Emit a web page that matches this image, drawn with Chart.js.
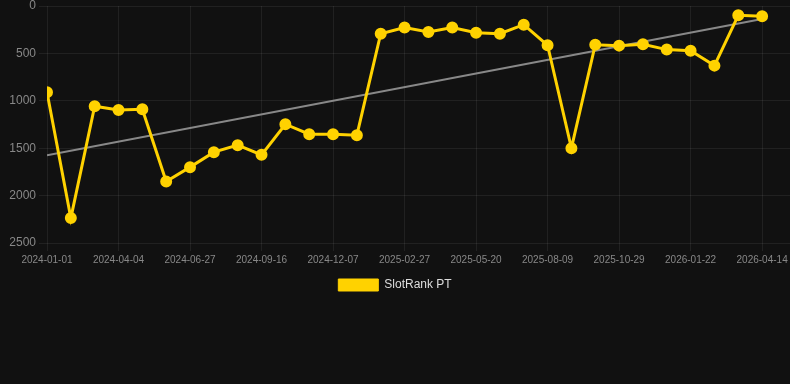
<!DOCTYPE html>
<html>
<head>
<meta charset="utf-8">
<script src="https://cdn.jsdelivr.net/npm/chart.js@4/dist/chart.umd.min.js"></script>
<style>
  html, body { margin: 0; padding: 0; background: #111111; }
  #wrap { width: 790px; height: 301px; position: relative; }
</style>
</head>
<body>
<div id="wrap"><canvas id="chart"></canvas></div>
<script>
// monthly snapshot dates (every 3rd one is shown on the axis)
const dates = [
  '2024-01-01', '2024-02-01', '2024-03-04', '2024-04-04', '2024-05-02', '2024-05-30',
  '2024-06-27', '2024-07-24', '2024-08-20', '2024-09-16', '2024-10-13', '2024-11-10',
  '2024-12-07', '2025-01-03', '2025-01-31', '2025-02-27', '2025-03-26', '2025-04-23',
  '2025-05-20', '2025-06-16', '2025-07-13', '2025-08-09', '2025-09-05', '2025-10-02',
  '2025-10-29', '2025-11-26', '2025-12-24', '2026-01-22', '2026-02-18', '2026-03-18',
  '2026-04-14'
];
const ranks = [
  909, 2237, 1057, 1096, 1089, 1851, 1700, 1542, 1468, 1570, 1247, 1352,
  1352, 1363, 292, 228, 274, 228, 281, 292, 197, 414, 1500, 408,
  418, 404, 460, 471, 629, 98, 109
];
const yTicks = [0, 500, 1000, 1500, 2000, 2500];

const YELLOW = '#FFD200';
const FONT = 'Liberation Sans, Arial, sans-serif';

// least squares trend over the rank series
function trend(values) {
  const n = values.length;
  let sx = 0, sy = 0, sxy = 0, sxx = 0;
  values.forEach((v, i) => { sx += i; sy += v; sxy += i * v; sxx += i * i; });
  const slope = (n * sxy - sx * sy) / (n * sxx - sx * sx);
  const icpt = (sy - slope * sx) / n;
  return [{ x: 0, y: icpt }, { x: n - 1, y: icpt + slope * (n - 1) }];
}

const points = ranks.map((v, i) => ({ x: i, y: v }));

new Chart(document.getElementById('chart'), {
  type: 'line',
  data: {
    datasets: [{
      label: 'SlotRank PT',
      data: points,
      borderColor: YELLOW,
      backgroundColor: YELLOW,
      pointBackgroundColor: YELLOW,
      pointBorderColor: YELLOW,
      borderWidth: 3,
      pointRadius: 4.5,
      pointHoverRadius: 5,
      tension: 0,
      order: 1
    }, {
      label: 'trend',
      data: trend(ranks),
      borderColor: 'rgba(150,150,150,0.9)',
      borderWidth: 2,
      pointRadius: 0,
      fill: false,
      order: 2
    }]
  },
  options: {
    responsive: true,
    maintainAspectRatio: false,
    animation: false,
    layout: { autoPadding: false },
    plugins: {
      legend: {
        position: 'bottom',
        labels: {
          color: '#dddddd',
          font: { family: FONT, size: 12 },
          generateLabels: chart => {
            const items = Chart.defaults.plugins.legend.labels.generateLabels(chart);
            return items.filter(it => it.text !== 'trend').map(it => ({ ...it, lineWidth: 1 }));
          }
        }
      },
      tooltip: { enabled: false }
    },
    scales: {
      x: {
        type: 'linear',
        min: 0,
        max: 31.17,
        grid: { color: 'rgba(255,255,255,0.07)' },
        border: { display: false },
        afterFit: s => { s.paddingRight = 0; },
        ticks: {
          stepSize: 3,
          includeBounds: false,
          autoSkip: false,
          maxRotation: 0,
          color: '#888888',
          font: { family: FONT, size: 10 },
          callback: v => (Number.isInteger(v) && v % 3 === 0 && dates[v]) ? dates[v] : null
        }
      },
      y: {
        reverse: true,
        min: 0,
        max: 2500,
        grid: { color: 'rgba(255,255,255,0.07)' },
        border: { display: false },
        afterBuildTicks: axis => { axis.ticks = yTicks.map(v => ({ value: v })); },
        afterFit: s => { s.width = 47; s.paddingTop = 6; },
        ticks: {
          color: '#888888',
          font: { family: FONT, size: 12 },
          callback: v => String(v)
        }
      }
    }
  }
});
</script>
</body>
</html>
